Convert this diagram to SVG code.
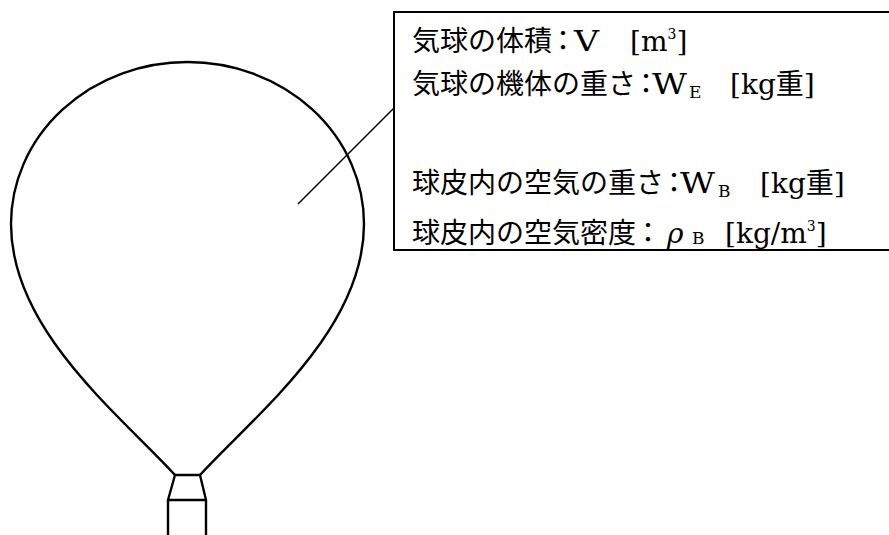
<svg xmlns="http://www.w3.org/2000/svg" width="889" height="535" viewBox="0 0 889 535">
  <style>
    .ink { fill: none; stroke: #000; stroke-linejoin: round; }
    .txt { font-family: "DejaVu Serif", "Noto Sans CJK JP", serif; font-size: 28px; fill: #000; }
    .jp { font-family: "Noto Sans CJK JP", sans-serif; font-size: 28px; }
    .half { font-feature-settings: "halt"; }
    .sub { font-size: 17px; }
    .sup { font-size: 14px; }
  </style>
  <rect width="889" height="535" fill="#fff"/>

  <!-- balloon envelope -->
  <g id="balloon">
    <path class="ink" stroke-width="2.4" d="M175,475 C120,415 11,330 11,224 A176.5 162 0 0 1 364,224 C364,330 255,415 200,475"/>
  </g>

  <!-- burner throat and basket -->
  <g id="basket">
    <path class="ink" stroke-width="2.4" d="M175,475 H200 L206,500 H168 Z"/>
    <path class="ink" stroke-width="2.4" d="M168,500 V535 M206,500 V535"/>
  </g>

  <!-- leader from envelope interior to the legend -->
  <g id="connectors">
    <line class="ink" stroke-width="1.5" x1="298" y1="204" x2="394" y2="108"/>
  </g>

  <!-- legend box -->
  <g id="legend">
    <path class="ink" stroke-width="2" d="M889,12 H394 V250 H889"/>

    <text class="txt" y="51"><tspan class="jp" x="412">気球の体積</tspan><tspan class="jp half" dx="4">：</tspan><tspan x="574" textLength="25" lengthAdjust="spacingAndGlyphs">V</tspan><tspan x="630">[m</tspan><tspan class="sup" dy="-12">3</tspan><tspan dy="12">]</tspan></text>

    <text class="txt" y="94"><tspan class="jp" x="412">気球の機体の重さ</tspan><tspan class="jp half" dx="3">：</tspan><tspan x="652" textLength="35" lengthAdjust="spacingAndGlyphs">W</tspan><tspan class="sub" x="689" dy="4">E</tspan><tspan x="730" dy="-4">[kg</tspan><tspan class="jp">重</tspan><tspan>]</tspan></text>

    <text class="txt" y="193"><tspan class="jp" x="412">球皮内の空気の重さ</tspan><tspan class="jp half" dx="3">：</tspan><tspan x="680" textLength="35" lengthAdjust="spacingAndGlyphs">W</tspan><tspan class="sub" x="718" dy="4">B</tspan><tspan x="760" dy="-4">[kg</tspan><tspan class="jp">重</tspan><tspan>]</tspan></text>

    <text class="txt" y="243"><tspan class="jp" x="412">球皮内の空気密度</tspan><tspan class="jp half" dx="5">：</tspan><tspan x="667" font-style="italic">ρ</tspan><tspan class="sub" x="692" dy="1">B</tspan><tspan x="725" dy="-1">[kg/m</tspan><tspan class="sup" dy="-12">3</tspan><tspan dy="12">]</tspan></text>
  </g>
</svg>
